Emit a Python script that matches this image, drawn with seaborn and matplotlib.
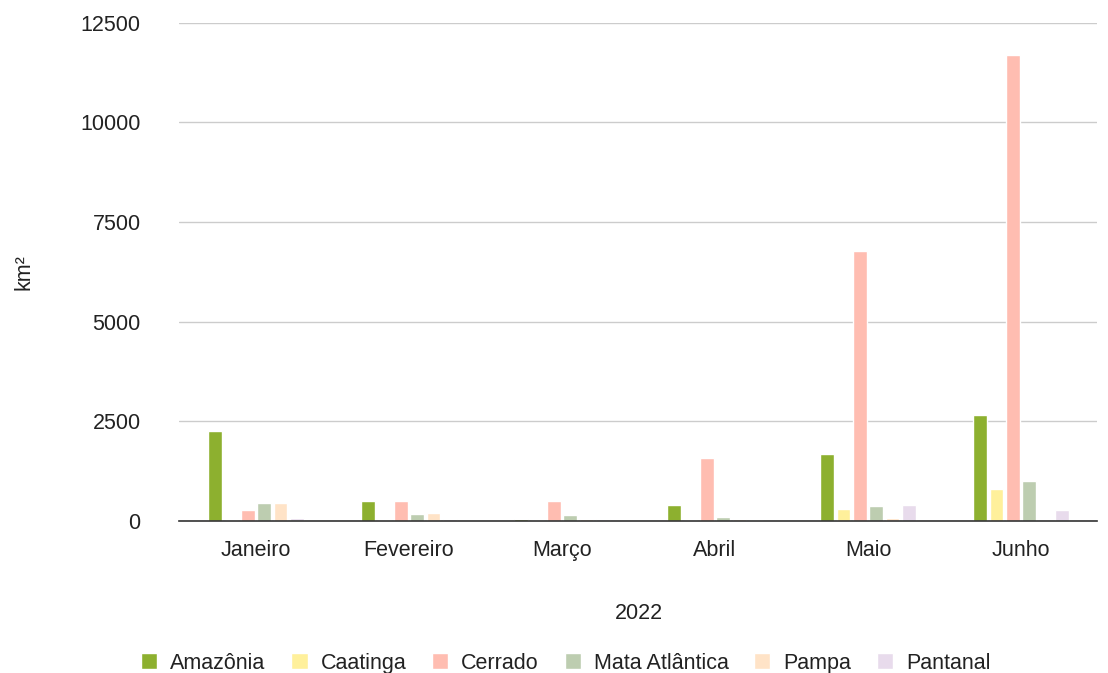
import pandas as pd
import matplotlib.pyplot as plt
import seaborn as sns

meses = ["Janeiro", "Fevereiro", "Março", "Abril", "Maio", "Junho"]
biomas = ["Amazônia", "Caatinga", "Cerrado", "Mata Atlântica", "Pampa", "Pantanal"]

amazonia = [2260, 500, 55, 400, 1675, 2660]
caatinga = [20, 20, 15, 20, 300, 795]
cerrado = [275, 510, 500, 1580, 6780, 11700]
mata_atlantica = [450, 175, 145, 110, 370, 995]
pampa = [440, 210, 45, 45, 85, 10]
pantanal = [85, 60, 50, 20, 400, 275]

cores = ["#8db02f", "#fff09b", "#ffbdb1", "#bdcdb0", "#ffe3c7", "#e8dbec"]

df = pd.DataFrame({"mes": meses, "Amazônia": amazonia, "Caatinga": caatinga,
                   "Cerrado": cerrado, "Mata Atlântica": mata_atlantica,
                   "Pampa": pampa, "Pantanal": pantanal})
dfl = df.melt(id_vars="mes", var_name="bioma", value_name="km2")

sns.set_style("white")
plt.rcParams["font.family"] = ["Liberation Sans", "DejaVu Sans"]

fig = plt.figure(figsize=(11.08, 6.73), dpi=100)
ax = fig.add_axes([0.162, 0.226, 0.8285, 0.740])

sns.barplot(data=dfl, x="mes", y="km2", hue="bioma", hue_order=biomas,
            palette=cores, saturation=1, width=0.64, gap=0.17, ax=ax, legend=True)

fs = 15.5
ax.set_ylim(0, 12500)
ax.set_yticks([0, 2500, 5000, 7500, 10000, 12500])
ax.yaxis.grid(True, color="#cccccc", linewidth=1)
ax.set_axisbelow(True)
for s in ["top", "right", "left"]:
    ax.spines[s].set_visible(False)
ax.spines["bottom"].set_color("#333333")
ax.spines["bottom"].set_linewidth(1.2)
ax.tick_params(axis="both", length=0, labelsize=fs, colors="#222222")
ax.tick_params(axis="x", pad=14)
ax.tick_params(axis="y", pad=28)
ax.set_xlabel("2022", fontsize=fs, color="#222222", labelpad=30)
ax.set_ylabel("km²", fontsize=fs, color="#222222", labelpad=33)

ax.legend(loc="upper center", bbox_to_anchor=(0.421, -0.226), ncol=6, frameon=False,
          fontsize=fs, handlelength=0.75, handleheight=0.75, handletextpad=0.6,
          columnspacing=1.2, labelcolor="#222222")

fig.savefig("out.png", dpi=100)
